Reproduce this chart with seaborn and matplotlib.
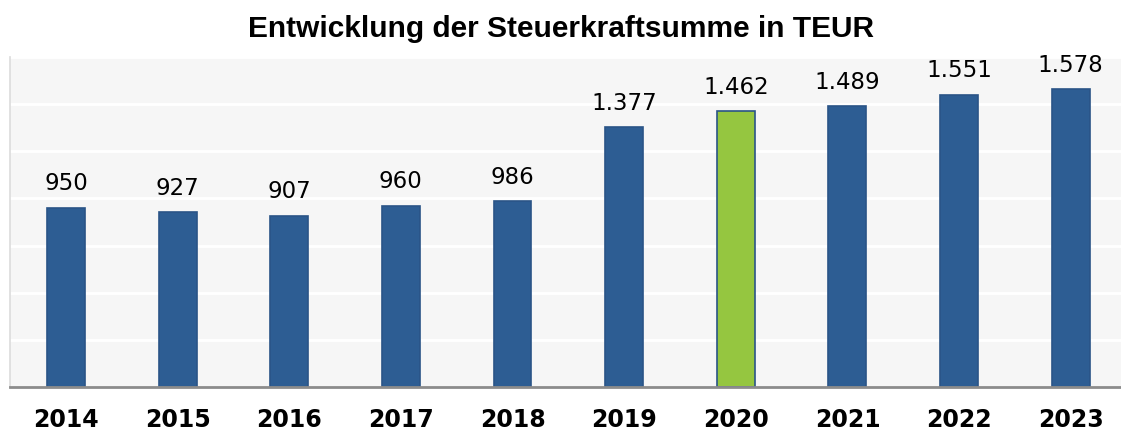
import matplotlib
matplotlib.use("Agg")
import matplotlib.pyplot as plt
import seaborn as sns
import pandas as pd

years = ["2014", "2015", "2016", "2017", "2018", "2019", "2020", "2021", "2022", "2023"]
values = [950, 927, 907, 960, 986, 1377, 1462, 1489, 1551, 1578]
labels = ["950", "927", "907", "960", "986", "1.377", "1.462", "1.489", "1.551", "1.578"]
bar_colors = ["#2D5D93"] * 5 + ["#2D5D93", "#95C640"] + ["#2D5D93"] * 3

sns.set_theme(style="white")
plt.rcParams["font.family"] = ["DejaVu Sans"]

df = pd.DataFrame({"year": years, "value": values})

fig = plt.figure(figsize=(11.21, 4.41), dpi=100)
ax = fig.add_axes([0.009, 0.1224, 0.991, 0.7483])
ax.set_facecolor("#F6F6F6")

sns.barplot(data=df, x="year", y="value", hue="year", palette=bar_colors,
            width=0.34, legend=False, ax=ax, saturation=1)
for p in ax.patches:
    p.set_edgecolor("#2A5487")
    p.set_linewidth(1.2)

ax.set_ylim(0, 1750)
ax.set_xlim(-0.5, 9.45)
ax.set_yticks([250, 500, 750, 1000, 1250, 1500, 1750])
ax.yaxis.grid(True, color="white", linewidth=2)
ax.set_axisbelow(True)
ax.tick_params(axis="y", left=False, labelleft=False)
ax.tick_params(axis="x", bottom=False, pad=9)
ax.set_xlabel("")
ax.set_ylabel("")
for t in ax.get_xticklabels():
    t.set_fontsize(17)
    t.set_fontweight("bold")
    t.set_color("black")

for s in ["top", "right"]:
    ax.spines[s].set_visible(False)
ax.spines["left"].set_color("#DDDDDD")
ax.spines["bottom"].set_color("#8C8C8C")
ax.spines["bottom"].set_linewidth(2)

for i, (v, lab) in enumerate(zip(values, labels)):
    ax.annotate(lab, (i, v), xytext=(0, 9), textcoords="offset points",
                ha="center", va="bottom", fontsize=16.5, color="black")

fig.suptitle("Entwicklung der Steuerkraftsumme in TEUR", x=0.5, y=0.965,
             fontsize=21.5, fontweight="bold", color="black",
             family=["Liberation Sans", "DejaVu Sans"])

fig.savefig("out.png", dpi=100, facecolor="white")
